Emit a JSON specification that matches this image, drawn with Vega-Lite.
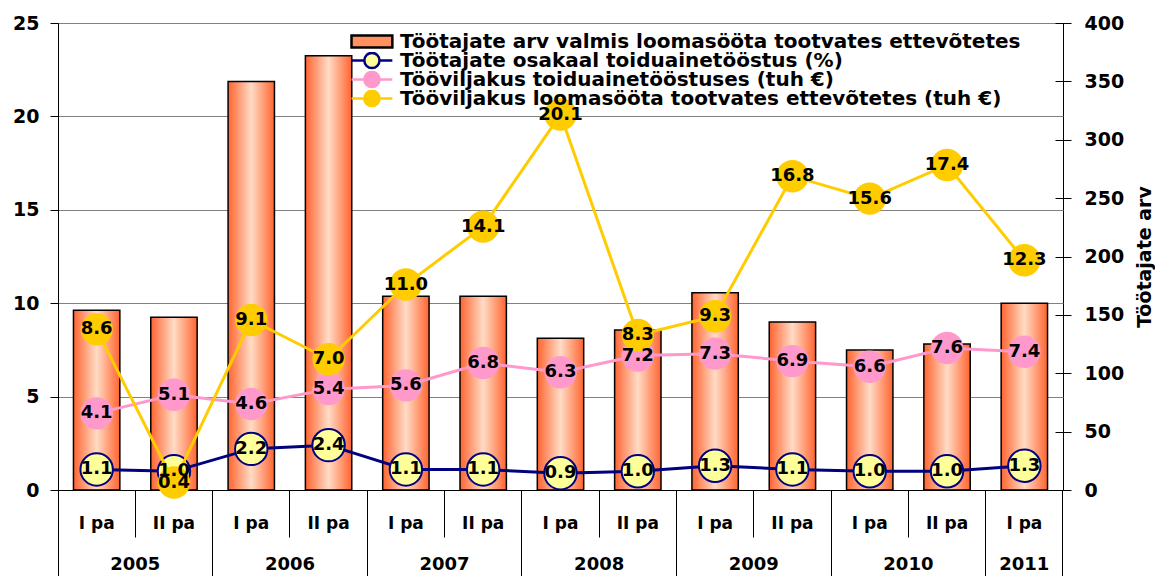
{
  "$schema": "https://vega.github.io/schema/vega-lite/v6.json",
  "width": 1005,
  "height": 467,
  "autosize": {"type": "none"},
  "padding": {"left": 58, "top": 23, "right": 92, "bottom": 86},
  "background": "white",
  "config": {"view": {"fill": "#CCFFCC", "stroke": "black", "strokeWidth": 1}},
  "data": {"values": [
    {"p": "2005 I", "arv": 154, "osakaal": 1.1, "toidu": 4.1, "looma": 8.6},
    {"p": "2005 II", "arv": 148, "osakaal": 1.0, "toidu": 5.1, "looma": 0.4},
    {"p": "2006 I", "arv": 350, "osakaal": 2.2, "toidu": 4.6, "looma": 9.1},
    {"p": "2006 II", "arv": 372, "osakaal": 2.4, "toidu": 5.4, "looma": 7.0},
    {"p": "2007 I", "arv": 166, "osakaal": 1.1, "toidu": 5.6, "looma": 11.0},
    {"p": "2007 II", "arv": 166, "osakaal": 1.1, "toidu": 6.8, "looma": 14.1},
    {"p": "2008 I", "arv": 130, "osakaal": 0.9, "toidu": 6.3, "looma": 20.1},
    {"p": "2008 II", "arv": 137, "osakaal": 1.0, "toidu": 7.2, "looma": 8.3},
    {"p": "2009 I", "arv": 169, "osakaal": 1.3, "toidu": 7.3, "looma": 9.3},
    {"p": "2009 II", "arv": 144, "osakaal": 1.1, "toidu": 6.9, "looma": 16.8},
    {"p": "2010 I", "arv": 120, "osakaal": 1.0, "toidu": 6.6, "looma": 15.6},
    {"p": "2010 II", "arv": 125, "osakaal": 1.0, "toidu": 7.6, "looma": 17.4},
    {"p": "2011 I", "arv": 160, "osakaal": 1.3, "toidu": 7.4, "looma": 12.3}
  ]},
  "resolve": {"scale": {"y": "independent"}, "axis": {"x": "independent"}},
  "layer": [
    {
      "mark": {"type": "bar", "width": {"band": 0.6}, "stroke": "black", "strokeWidth": 1.5,
        "fill": {"gradient": "linear", "x1": 0, "x2": 1, "y1": 0, "y2": 0,
          "stops": [{"offset": 0, "color": "#FF6430"}, {"offset": 0.5, "color": "#FFDCC6"}, {"offset": 1, "color": "#FF6430"}]}},
      "encoding": {
        "x": {"field": "p", "type": "nominal", "sort": null, "scale": {"type": "band", "paddingInner": 0, "paddingOuter": 0},
          "axis": {"orient": "bottom", "values": ["2005 I", "2006 I", "2007 I", "2008 I", "2009 I", "2010 I", "2011 I"], "bandPosition": 0, "labels": false, "ticks": true, "tickSize": 86, "tickColor": "black", "tickWidth": 1, "domain": true, "domainColor": "black", "domainWidth": 1, "grid": false, "title": null}},
        "y": {"field": "arv", "type": "quantitative", "scale": {"domain": [0, 400], "nice": false},
          "axis": {"orient": "right", "values": [0, 50, 100, 150, 200, 250, 300, 350, 400], "offset": -8, "tickSize": 16, "tickColor": "black", "tickWidth": 1, "domain": false, "grid": false, "labelFont": "DejaVu Sans", "labelFontSize": 19, "labelFontWeight": "bold", "labelColor": "black", "labelPadding": 13, "labelOverlap": false, "title": "Töötajate arv", "titleFont": "DejaVu Sans", "titleFontSize": 19, "titleFontWeight": "bold", "titleColor": "black", "titleAngle": 270, "titleBaseline": "top", "titlePadding": 12}}
      }
    },
    {
      "mark": {"type": "line", "color": "#000080", "strokeWidth": 3},
      "encoding": {
        "x": {"field": "p", "type": "nominal", "sort": null, "scale": {"type": "band", "paddingInner": 0, "paddingOuter": 0},
          "axis": {"orient": "bottom", "values": ["2005 II", "2006 II", "2007 II", "2008 II", "2009 II", "2010 II"], "bandPosition": 0, "labels": false, "ticks": true, "tickSize": 47, "tickColor": "black", "tickWidth": 1, "domain": false, "grid": false, "title": null}},
        "y": {"field": "osakaal", "type": "quantitative", "scale": {"domain": [0, 25], "nice": false},
          "axis": {"orient": "left", "values": [0, 5, 10, 15, 20, 25], "tickSize": 8, "tickColor": "black", "domainColor": "black", "grid": true, "gridColor": "#808080", "gridWidth": 1, "labelFont": "DejaVu Sans", "labelFontSize": 19, "labelFontWeight": "bold", "labelColor": "black", "labelPadding": 11, "labelOverlap": false, "title": null}}
      }
    },
    {
      "mark": {"type": "circle", "size": 1050, "fill": "#FFFF99", "stroke": "#000080", "strokeWidth": 2, "opacity": 1},
      "encoding": {
        "x": {"field": "p", "type": "nominal", "sort": null, "scale": {"type": "band", "paddingInner": 0, "paddingOuter": 0},
          "axis": {"orient": "bottom", "values": ["2011 I"], "bandPosition": 1, "labels": false, "ticks": true, "tickSize": 86, "tickColor": "black", "tickWidth": 1, "domain": false, "grid": false, "title": null}},
        "y": {"field": "osakaal", "type": "quantitative", "scale": {"domain": [0, 25], "nice": false}, "axis": null}
      }
    },
    {
      "mark": {"type": "line", "color": "#FF99CC", "strokeWidth": 3},
      "encoding": {
        "x": {"field": "p", "type": "nominal", "sort": null, "scale": {"type": "band", "paddingInner": 0, "paddingOuter": 0},
          "axis": {"orient": "bottom", "bandPosition": 0.5, "ticks": false, "tickSize": 0, "domain": false, "grid": false, "labelExpr": "split(datum.value, ' ')[1] + ' pa'", "labelFont": "DejaVu Sans", "labelFontSize": 17, "labelFontWeight": "bold", "labelColor": "black", "labelPadding": 33, "labelBaseline": "middle", "labelAngle": 0, "labelOverlap": false, "title": null}},
        "y": {"field": "toidu", "type": "quantitative", "scale": {"domain": [0, 25], "nice": false}, "axis": null}
      }
    },
    {
      "mark": {"type": "circle", "size": 1050, "fill": "#FF99CC", "opacity": 1},
      "encoding": {
        "x": {"field": "p", "type": "nominal", "sort": null, "scale": {"type": "band", "paddingInner": 0, "paddingOuter": 0},
          "axis": {"orient": "bottom", "values": ["2005 II", "2006 II", "2007 II", "2008 II", "2009 II", "2010 II"], "bandPosition": 0, "ticks": false, "tickSize": 0, "domain": false, "grid": false, "labelExpr": "split(datum.value, ' ')[0]", "labelOffset": -38.65, "labelFont": "DejaVu Sans", "labelFontSize": 18, "labelFontWeight": "bold", "labelColor": "black", "labelPadding": 74, "labelBaseline": "middle", "labelAngle": 0, "labelOverlap": false, "title": null}},
        "y": {"field": "toidu", "type": "quantitative", "scale": {"domain": [0, 25], "nice": false}, "axis": null}
      }
    },
    {
      "mark": {"type": "line", "color": "#FFCC00", "strokeWidth": 3},
      "encoding": {
        "x": {"field": "p", "type": "nominal", "sort": null, "scale": {"type": "band", "paddingInner": 0, "paddingOuter": 0},
          "axis": {"orient": "bottom", "values": ["2011 I"], "bandPosition": 0.5, "ticks": false, "tickSize": 0, "domain": false, "grid": false, "labelExpr": "split(datum.value, ' ')[0]", "labelFont": "DejaVu Sans", "labelFontSize": 18, "labelFontWeight": "bold", "labelColor": "black", "labelPadding": 74, "labelBaseline": "middle", "labelAngle": 0, "labelOverlap": false, "title": null}},
        "y": {"field": "looma", "type": "quantitative", "scale": {"domain": [0, 25], "nice": false}, "axis": null}
      }
    },
    {
      "mark": {"type": "circle", "size": 1050, "fill": "#FFCC00", "opacity": 1},
      "encoding": {
        "x": {"field": "p", "type": "nominal", "sort": null, "scale": {"type": "band", "paddingInner": 0, "paddingOuter": 0}, "axis": null},
        "y": {"field": "looma", "type": "quantitative", "scale": {"domain": [0, 25], "nice": false}, "axis": null}
      }
    },
    {
      "mark": {"type": "text", "font": "DejaVu Sans", "fontSize": 18, "fontWeight": "bold", "color": "black", "align": "center", "baseline": "middle"},
      "encoding": {
        "x": {"field": "p", "type": "nominal", "sort": null, "scale": {"type": "band", "paddingInner": 0, "paddingOuter": 0}, "axis": null},
        "y": {"field": "osakaal", "type": "quantitative", "scale": {"domain": [0, 25], "nice": false}, "axis": null},
        "text": {"field": "osakaal", "type": "quantitative", "format": ".1f"}
      }
    },
    {
      "mark": {"type": "text", "font": "DejaVu Sans", "fontSize": 18, "fontWeight": "bold", "color": "black", "align": "center", "baseline": "middle"},
      "encoding": {
        "x": {"field": "p", "type": "nominal", "sort": null, "scale": {"type": "band", "paddingInner": 0, "paddingOuter": 0}, "axis": null},
        "y": {"field": "toidu", "type": "quantitative", "scale": {"domain": [0, 25], "nice": false}, "axis": null},
        "text": {"field": "toidu", "type": "quantitative", "format": ".1f"}
      }
    },
    {
      "mark": {"type": "text", "font": "DejaVu Sans", "fontSize": 18, "fontWeight": "bold", "color": "black", "align": "center", "baseline": "middle"},
      "encoding": {
        "x": {"field": "p", "type": "nominal", "sort": null, "scale": {"type": "band", "paddingInner": 0, "paddingOuter": 0}, "axis": null},
        "y": {"field": "looma", "type": "quantitative", "scale": {"domain": [0, 25], "nice": false}, "axis": null},
        "text": {"field": "looma", "type": "quantitative", "format": ".1f"}
      }
    },
    {
      "transform": [{"filter": "false"}],
      "mark": {"type": "point", "filled": true},
      "encoding": {
        "shape": {"field": "s", "type": "nominal",
          "scale": {"domain": ["Töötajate arv valmis loomasööta tootvates ettevõtetes", "Töötajate osakaal toiduainetööstus (%)", "Tööviljakus toiduainetööstuses (tuh €)", "Tööviljakus loomasööta tootvates ettevõtetes (tuh €)"],
            "range": [
              "M-1,-0.63L3.3,-0.63L3.3,0.63L-1,0.63Z",
              "M-1,0L0.35,0M1.95,0L3.3,0M0.35,0C0.35,-0.442 0.708,-0.8 1.15,-0.8C1.592,-0.8 1.95,-0.442 1.95,0C1.95,0.442 1.592,0.8 1.15,0.8C0.708,0.8 0.35,0.442 0.35,0Z",
              "M-1,0L0.35,0M1.95,0L3.3,0M0.35,0C0.35,-0.442 0.708,-0.8 1.15,-0.8C1.592,-0.8 1.95,-0.442 1.95,0C1.95,0.442 1.592,0.8 1.15,0.8C0.708,0.8 0.35,0.442 0.35,0Z",
              "M-1,0L0.35,0M1.95,0L3.3,0M0.35,0C0.35,-0.442 0.708,-0.8 1.15,-0.8C1.592,-0.8 1.95,-0.442 1.95,0C1.95,0.442 1.592,0.8 1.15,0.8C0.708,0.8 0.35,0.442 0.35,0Z"
            ]},
          "legend": {"title": null, "orient": "none", "legendX": 292, "legendY": 10, "symbolSize": 361, "symbolStrokeWidth": 2.5, "symbolOpacity": 1, "labelFont": "DejaVu Sans", "labelFontSize": 20, "labelFontWeight": "bold", "labelColor": "black", "labelOffset": 28, "rowPadding": -2.5, "clipHeight": 17, "padding": 0, "labelLimit": 800}},
        "fill": {"field": "s", "type": "nominal",
          "scale": {"domain": ["Töötajate arv valmis loomasööta tootvates ettevõtetes", "Töötajate osakaal toiduainetööstus (%)", "Tööviljakus toiduainetööstuses (tuh €)", "Tööviljakus loomasööta tootvates ettevõtetes (tuh €)"],
            "range": ["#FF9060", "#FFFF99", "#FF99CC", "#FFCC00"]},
          "legend": {"title": null, "orient": "none", "legendX": 292, "legendY": 10, "symbolSize": 361, "symbolStrokeWidth": 2.5, "symbolOpacity": 1, "labelFont": "DejaVu Sans", "labelFontSize": 20, "labelFontWeight": "bold", "labelColor": "black", "labelOffset": 28, "rowPadding": -2.5, "clipHeight": 17, "padding": 0, "labelLimit": 800}},
        "stroke": {"field": "s", "type": "nominal",
          "scale": {"domain": ["Töötajate arv valmis loomasööta tootvates ettevõtetes", "Töötajate osakaal toiduainetööstus (%)", "Tööviljakus toiduainetööstuses (tuh €)", "Tööviljakus loomasööta tootvates ettevõtetes (tuh €)"],
            "range": ["#000000", "#000080", "#FF99CC", "#FFCC00"]},
          "legend": {"title": null, "orient": "none", "legendX": 292, "legendY": 10, "symbolSize": 361, "symbolStrokeWidth": 2.5, "symbolOpacity": 1, "labelFont": "DejaVu Sans", "labelFontSize": 20, "labelFontWeight": "bold", "labelColor": "black", "labelOffset": 28, "rowPadding": -2.5, "clipHeight": 17, "padding": 0, "labelLimit": 800}}
      }
    }
  ]
}
